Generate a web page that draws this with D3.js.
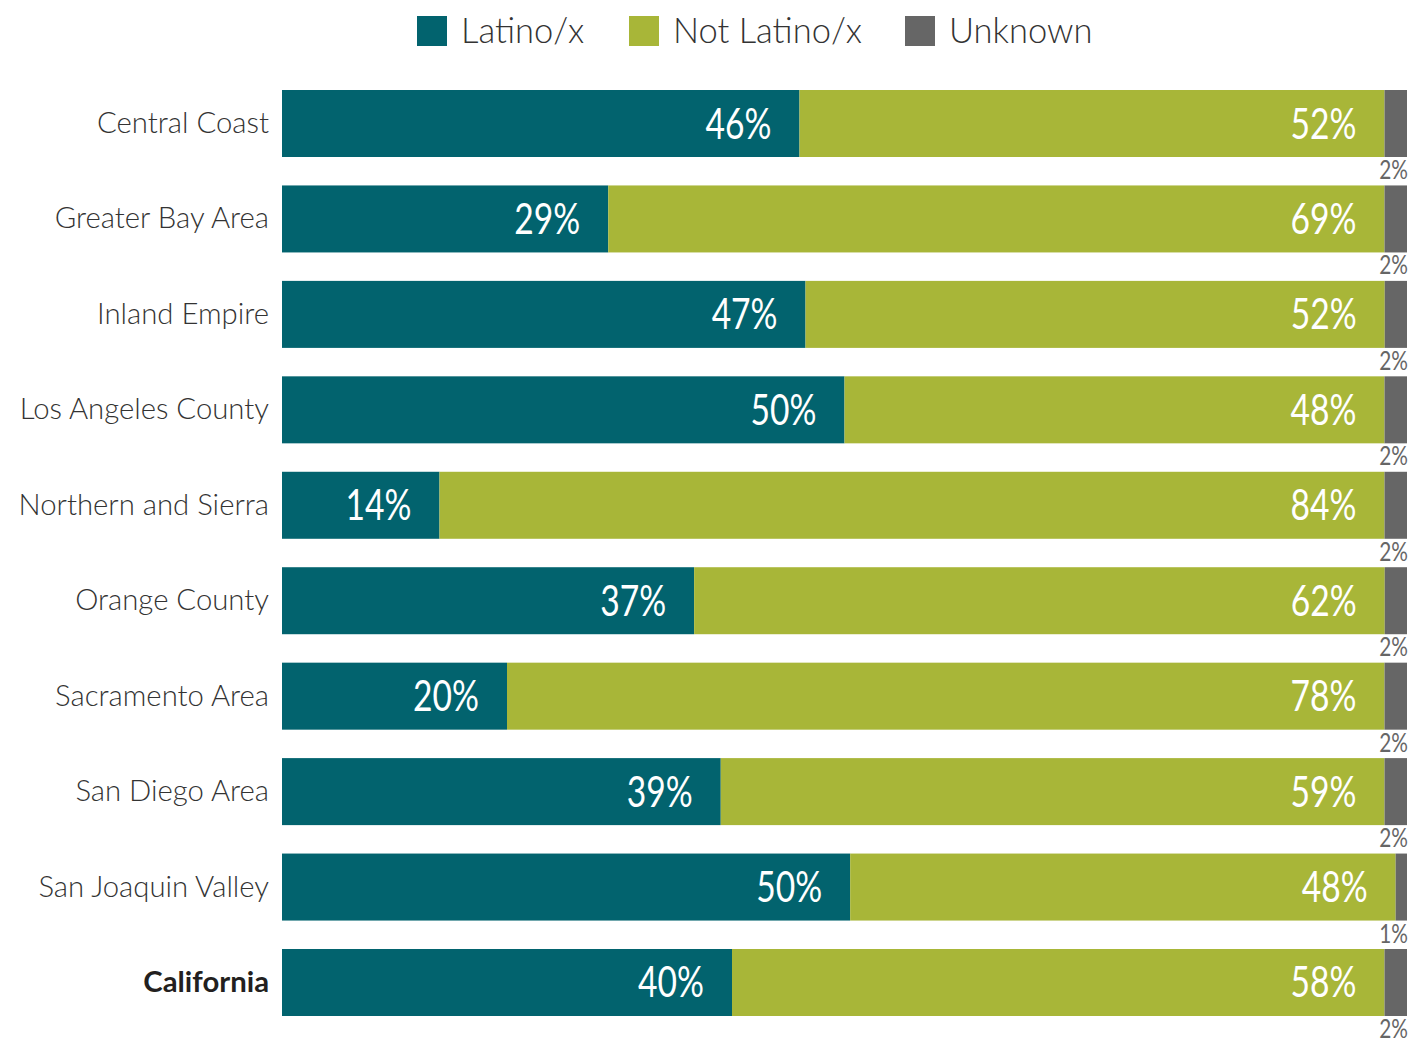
<!DOCTYPE html>
<html>
<head>
<meta charset="utf-8">
<script src="https://cdn.jsdelivr.net/npm/d3@7"></script>
<style>
  html, body { margin: 0; padding: 0; background: #ffffff; }
  svg { display: block; }
</style>
</head>
<body>
<svg id="chart" width="1412" height="1041"></svg>
<script>
// Regions, in display order
const regions = [
  "Central Coast", "Greater Bay Area", "Inland Empire", "Los Angeles County",
  "Northern and Sierra", "Orange County", "Sacramento Area", "San Diego Area",
  "San Joaquin Valley", "California"
];
// Share of each group, in percent
const latino    = [46, 29, 47, 50, 14, 37, 20, 39, 50, 40];
const notLatino = [52, 69, 52, 48, 84, 62, 78, 59, 48, 58];
const unknown   = [ 2,  2,  2,  2,  2,  2,  2,  2,  1,  2];

const seriesKeys   = ["latino", "notLatino", "unknown"];
const seriesLabels = ["Latino/x", "Not Latino/x", "Unknown"];
const colors = { latino: "#02636e", notLatino: "#a8b638", unknown: "#666666" };

const rows = regions.map((r, i) => ({
  region: r, latino: latino[i], notLatino: notLatino[i], unknown: unknown[i]
}));

const svg = d3.select("#chart");
const catFont = "Lato, 'Open Sans', sans-serif";
const numFont = "Lato, 'DejaVu Sans Condensed', sans-serif";
const squeeze = 0.8; // horizontal compression for the condensed value labels

const x = d3.scaleLinear().domain([0, 1]).range([282, 1407]);
const y = d3.scaleBand().domain(regions).range([90, 1016]).paddingInner(0.298);

const stack = d3.stack().keys(seriesKeys).offset(d3.stackOffsetExpand);
const stacked = stack(rows);

// Bars
svg.append("g").selectAll("g")
  .data(stacked)
  .join("g")
  .attr("fill", d => colors[d.key])
  .selectAll("rect")
  .data(d => d)
  .join("rect")
  .attr("x", d => x(d[0]))
  .attr("y", d => y(d.data.region))
  .attr("width", d => x(d[1]) - x(d[0]))
  .attr("height", y.bandwidth());

// Region names
svg.append("g").selectAll("text")
  .data(regions)
  .join("text")
  .attr("x", 269)
  .attr("y", d => y(d) + y.bandwidth() / 2 + 9.5)
  .attr("text-anchor", "end")
  .attr("font-family", catFont)
  .attr("font-size", 29.3)
  .attr("font-weight", d => d === "California" ? 700 : 300)
  .attr("fill", d => d === "California" ? "#231f20" : "#333333")
  .text(d => d);

// Value labels inside the Latino/x and Not Latino/x segments
const inner = stacked.filter(s => s.key !== "unknown");
inner.forEach(s => {
  svg.append("g").selectAll("text")
    .data(s)
    .join("text")
    .attr("transform", d =>
      `translate(${x(d[1]) - 28},${y(d.data.region) + y.bandwidth() / 2 + 15}) scale(${squeeze},1)`)
    .attr("text-anchor", "end")
    .attr("font-family", numFont)
    .attr("font-size", 42)
    .attr("fill", "#ffffff")
    .text(d => d.data[s.key] + "%");
});

// Unknown labels beneath each bar
const unk = stacked.find(s => s.key === "unknown");
svg.append("g").selectAll("text")
  .data(unk)
  .join("text")
  .attr("transform", d =>
    `translate(1408,${y(d.data.region) + y.bandwidth() + 22}) scale(${squeeze},1)`)
  .attr("text-anchor", "end")
  .attr("font-family", numFont)
  .attr("font-size", 26)
  .attr("fill", "#666666")
  .text(d => d.data.unknown + "%");

// Legend
const legendX = [417, 629, 905];
const legend = svg.append("g").selectAll("g")
  .data(seriesKeys)
  .join("g")
  .attr("transform", (d, i) => `translate(${legendX[i]},16)`);
legend.append("rect")
  .attr("width", 30).attr("height", 30)
  .attr("fill", d => colors[d]);
legend.append("text")
  .attr("x", 44).attr("y", 27)
  .attr("font-family", catFont)
  .attr("font-size", 34.5)
  .attr("font-weight", 300)
  .attr("fill", "#333333")
  .text((d, i) => seriesLabels[i]);
</script>
</body>
</html>
